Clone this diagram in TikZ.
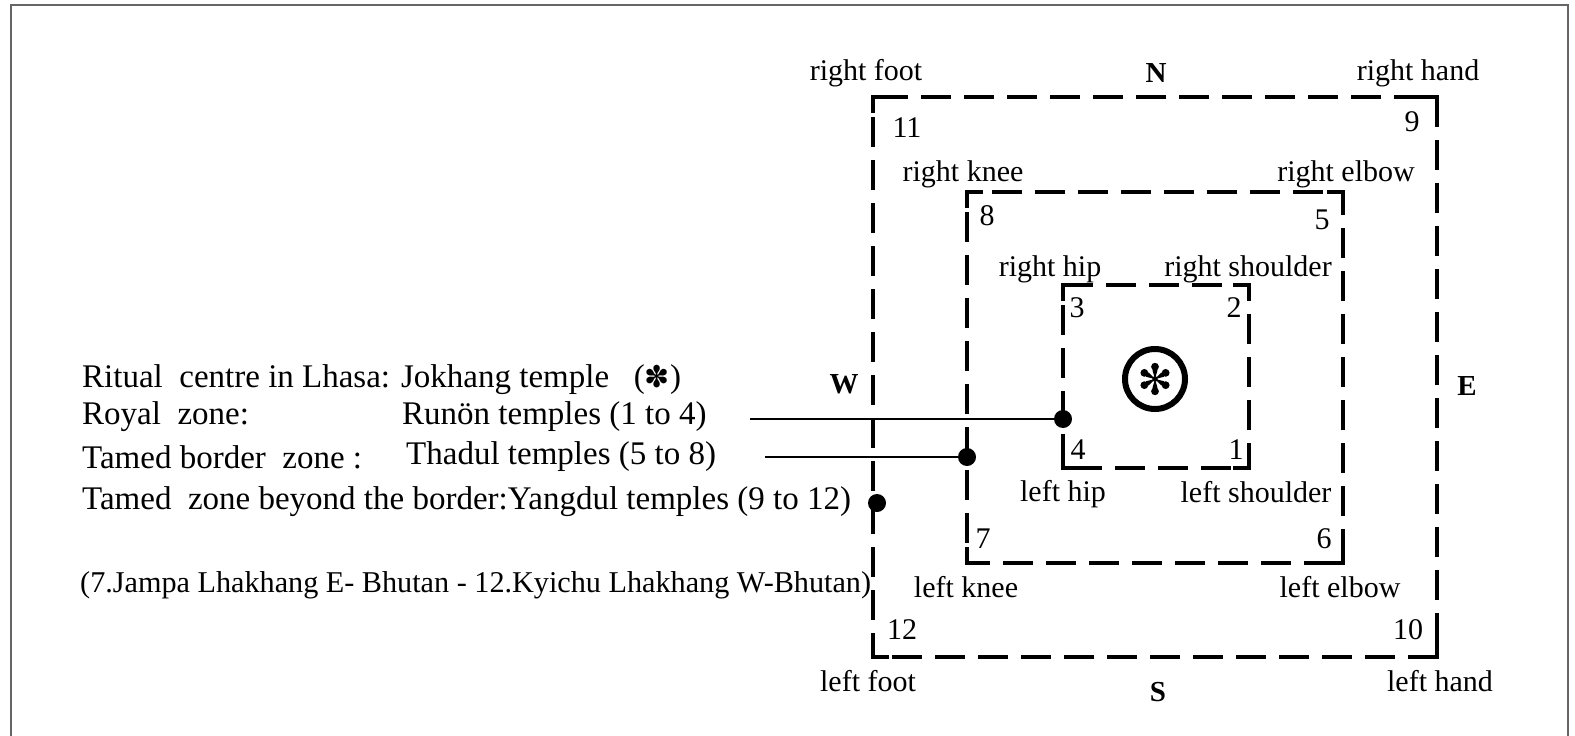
\documentclass[tikz,border=0pt]{standalone}
\usepackage{fontspec}
\setmainfont{Liberation Serif}
\newfontfamily\symfont{DejaVu Sans}
\newcommand\zonebox[4]{%
  \draw[zoneline] (#1,#2) rectangle (#3,#4);
  \draw[cornerline] (#1,#2-16) -- (#1,#2) -- (#1+16,#2);
  \draw[cornerline] (#3-16,#2) -- (#3,#2) -- (#3,#2-16);
  \draw[cornerline] (#3,#4+16) -- (#3,#4) -- (#3-16,#4);
  \draw[cornerline] (#1+16,#4) -- (#1,#4) -- (#1,#4+16);
}
\tikzset{
  zoneline/.style={line width=3.6pt, dash pattern=on 30pt off 13pt, dash phase=-20pt},
  cornerline/.style={line width=3.6pt, line cap=butt},
  lbl/.style={font=\fontsize{30}{34}\selectfont, inner sep=0pt},
  dir/.style={font=\fontsize{29}{34}\selectfont\bfseries, inner sep=0pt},
  legend/.style={font=\fontsize{33}{38}\selectfont, inner sep=0pt, anchor=west},
  note/.style={font=\fontsize{30.2}{35}\selectfont, inner sep=0pt, anchor=west},
  conn/.style={line width=2.4pt},
  dotnode/.style={circle, fill=black, inner sep=0pt, minimum size=18pt},
  tstar/.pic={
    \foreach \a in {30,90,150,210,270,330}{
      \fill (0,0) -- (\a+16:9) -- (\a:12.5) -- (\a-16:9) -- cycle;
      \fill (\a:12.3) circle (3.9);
    }
    \fill (0,0) circle (2.8);
  },
}
\begin{document}
\begin{tikzpicture}[x=1pt,y=1pt]
\useasboundingbox (0,0) rectangle (1575,-736);
\draw[black!60, line width=1.5pt] (11,-736) -- (11,-5) -- (1568,-5) -- (1568,-736);

% zones
\zonebox{873}{-97}{1437}{-657}
\zonebox{967}{-192}{1343}{-563}
\zonebox{1063}{-285}{1249}{-468}

% centre
\node[circle, draw, line width=6pt, minimum size=60pt, inner sep=0pt] (centre) at (1155,-379) {};
\pic at (centre.center) {tstar};

% labels
\node[lbl] (rfoot) at (866,-73) {right foot};
\node[dir] (N) at (1156,-73) {N};
\node[lbl] (rhand) at (1418,-73) {right hand};
\node[lbl] (n11) at (907,-128) {11};
\node[lbl] (n9) at (1412,-122) {9};
\node[lbl] (rknee) at (963,-174) {right knee};
\node[lbl] (relbow) at (1346,-174) {right elbow};
\node[lbl] (n8) at (987,-216) {8};
\node[lbl] (n5) at (1322,-220) {5};
\node[lbl] (rhip) at (1050,-269) {right hip};
\node[lbl] (rshoulder) at (1248,-269) {right shoulder};
\node[lbl] (n3) at (1077,-308) {3};
\node[lbl] (n2) at (1234,-308) {2};
\node[dir] (W) at (844,-384) {W};
\node[dir] (E) at (1467,-386) {E};
\node[lbl] (n4) at (1078,-450) {4};
\node[lbl] (n1) at (1236,-450) {1};
\node[lbl] (lhip) at (1063,-494) {left hip};
\node[lbl] (lshoulder) at (1256,-492) {left shoulder};
\node[lbl] (n7) at (983,-539) {7};
\node[lbl] (n6) at (1324,-539) {6};
\node[lbl] (lknee) at (966,-587) {left knee};
\node[lbl] (lelbow) at (1340,-587) {left elbow};
\node[lbl] (n12) at (902,-630) {12};
\node[lbl] (n10) at (1408,-630) {10};
\node[lbl] (lfoot) at (868,-681) {left foot};
\node[dir] (S) at (1158,-692) {S};
\node[lbl] (lhand) at (1440,-681) {left hand};

% legend
\node[legend] (leg1) at (82,-380) {Ritual\ \ centre in Lhasa: Jokhang temple\ \ \ ({\symfont\fontsize{30}{30}\selectfont ✽})};
\node[legend] (leg2a) at (82,-417) {Royal\ \ zone:};
\node[legend] (leg2b) at (402,-417) {Runön temples (1 to 4)};
\node[legend] (leg3a) at (82,-457) {Tamed border\ \ zone :};
\node[legend] (leg3b) at (406,-457) {Thadul temples (5 to 8)};
\node[legend] (leg4) at (82,-502) {Tamed\ \ zone beyond the border:Yangdul temples (9 to 12)};
\node[note] (leg5) at (80,-585) {(7.Jampa Lhakhang E- Bhutan - 12.Kyichu Lhakhang W-Bhutan)};

% connectors
\coordinate (s1) at (750,-419);
\coordinate (s2) at (765,-457);
\node[dotnode] (d1) at (1063,-419) {};
\node[dotnode] (d2) at (967,-457) {};
\node[dotnode] (d3) at (877,-503) {};
\draw[conn] (s1) -- (d1.center);
\draw[conn] (s2) -- (d2.center);
\end{tikzpicture}
\end{document}
